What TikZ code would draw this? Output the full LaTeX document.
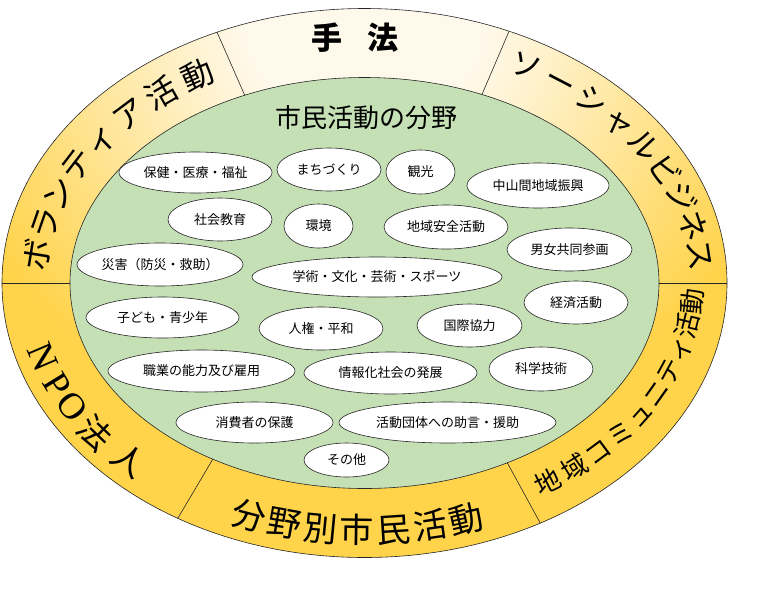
\documentclass[tikz,border=0pt]{standalone}
\usepackage{fontspec}
\newfontfamily\jpfont{Noto Sans CJK JP}
\newfontfamily\latinserif{Liberation Serif}
\usetikzlibrary{shapes.geometric}
\definecolor{ringpale}{HTML}{FFF9EC}
\definecolor{ringgold}{HTML}{FFD34A}
\definecolor{fieldgreen}{HTML}{C5E0B4}
% the path's bounding box maps to the central 50bp square (radius 25bp)
\pgfdeclareradialshading{ringshade}{\pgfpoint{0bp}{0bp}}{color(0bp)=(ringpale); color(5bp)=(ringpale); color(18.3bp)=(ringgold); color(50bp)=(ringgold)}
% place one character on the ring: scale, angle, dir(1=clockwise), style, name, text
\newcommand\ringat[6]{%
  \pgfmathsetmacro\rtx{364.5+#1*328*cos(#2)}%
  \pgfmathsetmacro\rty{283-#1*240*sin(#2)}%
  \pgfmathsetmacro\rtr{atan2(240*cos(#2),-328*sin(#2))+#3*180}%
  \node[#4, rotate=\rtr] (#5) at (\rtx,\rty) {#6};}
% scale, t1, t2, n, dir, style(=name prefix), list
\newcommand\ringtxt[7]{%
  \foreach \rc [count=\ri] in {#7} {%
    \pgfmathsetmacro\rtt{#2+(\ri-1)*(#3-#2)/(#4-1)}%
    \ringat{#1}{\rtt}{#5}{#6}{#6-\ri}{\rc}}}
\begin{document}
\begin{tikzpicture}[x=1pt,y=-1pt,
  ringline/.style={draw=black!85, line width=0.6pt},
  field/.style={ellipse, draw=black!85, line width=0.6pt, fill=white, inner sep=0pt,
    font=\jpfont\fontsize{13pt}{13pt}\selectfont},
  voltxt/.style={inner sep=0pt, text height=28pt, text depth=4pt, font=\jpfont\fontsize{32pt}{32pt}\selectfont},
  socbiz/.style={inner sep=0pt, text height=27pt, text depth=4pt, font=\jpfont\fontsize{31pt}{31pt}\selectfont},
  commtxt/.style={inner sep=0pt, text height=23pt, text depth=3pt, font=\jpfont\fontsize{26pt}{26pt}\selectfont},
  bunya/.style={inner sep=0pt, text height=30pt, text depth=4pt, font=\jpfont\fontsize{34pt}{34pt}\selectfont},
  npotxt/.style={inner sep=0pt, text height=29pt, text depth=4pt, font=\jpfont\fontsize{33pt}{33pt}\selectfont},
  npolatin/.style={inner sep=0pt, text height=28pt, text depth=5pt, font=\latinserif\fontsize{37pt}{37pt}\selectfont}
]
\useasboundingbox (0,0) rectangle (768,614);
% ring with gradient
\begin{scope}
  \clip (364.5,283) ellipse [x radius=362.5, y radius=274.5];
  \shade[shading=ringshade] (364.5,10) circle [radius=600];
\end{scope}
\draw[ringline] (364.5,283) ellipse [x radius=362.5, y radius=274.5];
% inner field
\filldraw[fill=fieldgreen, ringline] (364.5,283) ellipse [x radius=294.5, y radius=205.5];
% dividers
\foreach \a [count=\k] in {66.5,114,180,239,299,0} {
  \coordinate (di\k) at ({364.5+294.5*cos(\a)},{283-205.5*sin(\a)});
  \coordinate (do\k) at ({364.5+362.5*cos(\a)},{283-274.5*sin(\a)});
  \draw[ringline] (di\k) -- (do\k);
}
% titles
\node[inner sep=0pt, font=\jpfont\bfseries\fontsize{31pt}{31pt}\selectfont] (shuho) at (355,38) {手\hspace{25pt}法};
\node[inner sep=0pt, font=\jpfont\fontsize{26pt}{26pt}\selectfont] (bunyatitle) at (366,118) {市民活動の分野};
% ring texts
\ringtxt{1.005}{173.3}{120.5}{8}{1}{voltxt}{ボ,ラ,ン,テ,ィ,ア,活,動}
\ringtxt{1.03}{61.5}{6.5}{9}{1}{socbiz}{ソ,ー,シ,ャ,ル,ビ,ジ,ネ,ス}
\ringtxt{1.0}{304}{355.5}{10}{0}{commtxt}{地,域,コ,ミ,ュ,ニ,テ,ィ,活,動}
\ringtxt{1.03}{250}{287.5}{7}{0}{bunya}{分,野,別,市,民,活,動}
\ringat{1.03}{197.4}{0}{npolatin}{npo1}{N}
\ringat{1.03}{204.3}{0}{npolatin}{npo2}{P}
\ringat{1.03}{210.0}{0}{npolatin}{npo3}{O}
\ringat{1.03}{217.2}{0}{npotxt}{npo4}{法}
\ringat{1.03}{225.8}{0}{npotxt}{npo5}{人}
% fields
\node[field, minimum width=153pt, minimum height=41pt] (f1) at (195.5,172.5) {保健・医療・福祉};
\node[field, minimum width=104pt, minimum height=43pt] (f2) at (329,169.5) {まちづくり};
\node[field, minimum width=69pt, minimum height=44pt] (f3) at (420.5,172) {観光};
\node[field, minimum width=142pt, minimum height=45pt] (f4) at (538,185.5) {中山間地域振興};
\node[field, minimum width=104pt, minimum height=43pt] (f5) at (220,219.5) {社会教育};
\node[field, minimum width=69pt, minimum height=44pt] (f6) at (318.5,226) {環境};
\node[field, minimum width=124pt, minimum height=44pt] (f7) at (446,227) {地域安全活動};
\node[field, minimum width=125pt, minimum height=43pt] (f8) at (569.5,249.5) {男女共同参画};
\node[field, minimum width=166pt, minimum height=43pt] (f9) at (160,264.5) {災害（防災・救助）};
\node[field, minimum width=250pt, minimum height=40pt] (f10) at (377,277) {学術・文化・芸術・スポーツ};
\node[field, minimum width=104pt, minimum height=43pt] (f11) at (576,302.5) {経済活動};
\node[field, minimum width=153pt, minimum height=41pt] (f12) at (162.5,317.5) {子ども・青少年};
\node[field, minimum width=124pt, minimum height=43pt] (f13) at (321,328.5) {人権・平和};
\node[field, minimum width=105pt, minimum height=43pt] (f14) at (469.5,325.5) {国際協力};
\node[field, minimum width=187pt, minimum height=42pt] (f15) at (201.5,371) {職業の能力及び雇用};
\node[field, minimum width=173pt, minimum height=42pt] (f16) at (390.5,373) {情報化社会の発展};
\node[field, minimum width=104pt, minimum height=44pt] (f17) at (541,369) {科学技術};
\node[field, minimum width=157pt, minimum height=41pt] (f18) at (254.5,422.5) {消費者の保護};
\node[field, minimum width=217pt, minimum height=41pt] (f19) at (447.5,422.5) {活動団体への助言・援助};
\node[field, minimum width=85pt, minimum height=34pt] (f20) at (346.5,460) {その他};
\end{tikzpicture}
\end{document}
